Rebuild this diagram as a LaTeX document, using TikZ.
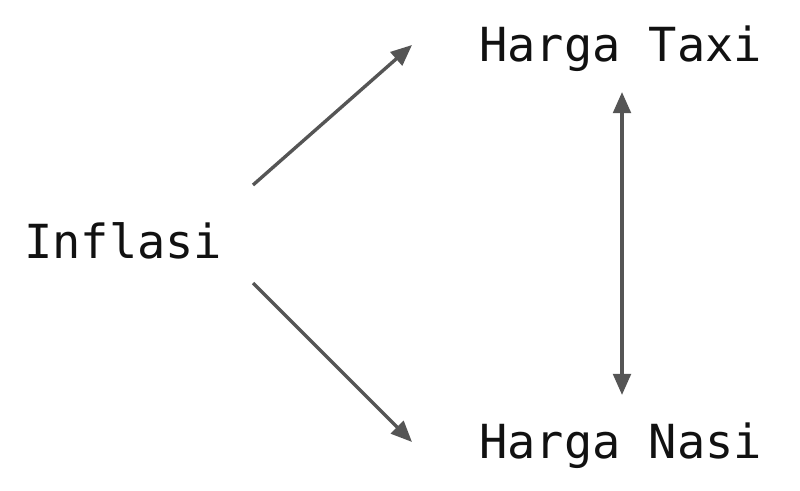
\documentclass[tikz,border=0pt]{standalone}
\usepackage{fontspec}
\setmonofont{DejaVu Sans Mono}
\usetikzlibrary{arrows.meta}
\definecolor{arrowgray}{HTML}{555555}
\definecolor{textblack}{HTML}{111111}
\begin{document}
\begin{tikzpicture}[x=0.025cm,y=-0.025cm,
    label/.style={inner sep=0pt,anchor=base west,text=textblack,font=\ttfamily\fontsize{33.4}{40}\selectfont},
    link/.style={draw=arrowgray,line width=2.4pt,-{Triangle[length=15pt,width=12.5pt]}},
    twoway/.style={link,{Triangle[length=15pt,width=12.5pt]}-{Triangle[length=15pt,width=12.5pt]}}]

% \draw[step=50,gray,very thin] (0,0) grid (800,491);
        \useasboundingbox (0,0) rectangle (800,491);

        \node (inflasi) [label] at (24,258) {Inflasi};
        \node (taxi) [label] at (479,62) {Harga Taxi};
        \node (nasi) [label] at (479,458) {Harga Nasi};

        \coordinate (inflasi_up) at (253,185);
        \coordinate (inflasi_down) at (253,283);
        \coordinate (taxi_in) at (412,45);
        \coordinate (nasi_in) at (412,442);
        \coordinate (taxi_out) at (622,92);
        \coordinate (nasi_out) at (622,395);

        \draw [link](inflasi_up) -- (taxi_in);
        \draw [link](inflasi_down) -- (nasi_in);
        \draw [twoway](taxi_out) -- (nasi_out);

    \end{tikzpicture}
\end{document}
